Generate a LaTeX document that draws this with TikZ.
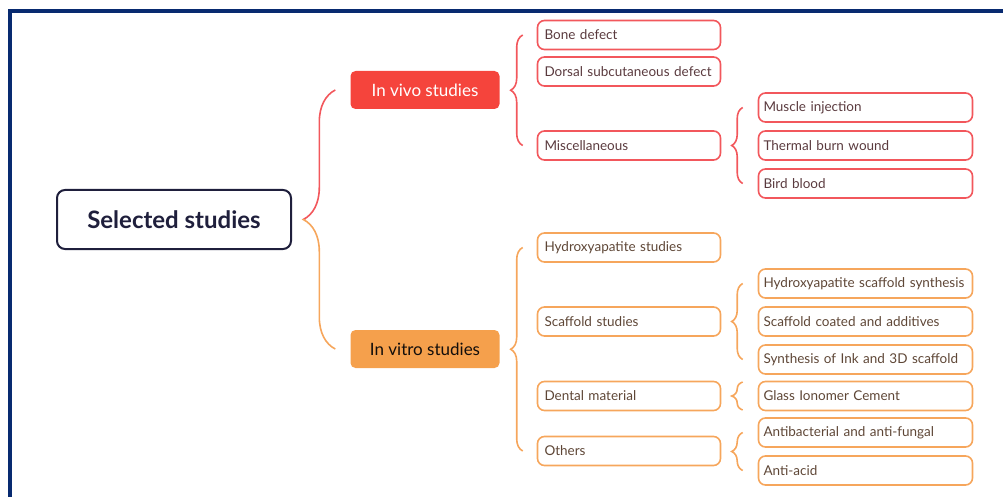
\documentclass[tikz,border=0pt]{standalone}
\usepackage{fontspec}
\setmainfont{Lato}
\usepackage{tikz}
\usetikzlibrary{decorations.pathreplacing}

\definecolor{framenavy}{HTML}{082A70}
\definecolor{rootnavy}{HTML}{1F1F3C}
\definecolor{vivofill}{HTML}{F5443C}
\definecolor{vivoline}{HTML}{F2575C}
\definecolor{vivotext}{HTML}{5A3A3E}
\definecolor{vitrofill}{HTML}{F5A04C}
\definecolor{vitroline}{HTML}{F6A65C}
\definecolor{vitrotext}{HTML}{5E4636}

\begin{document}
\begin{tikzpicture}[x=1pt, y=-1pt,
    root/.style={draw=rootnavy, line width=2pt, rounded corners=8pt, minimum width=234pt, minimum height=59pt, text=rootnavy, font=\fontsize{24}{28}\selectfont\bfseries},
    group/.style={rounded corners=5pt, minimum width=149pt, minimum height=38pt, font=\fontsize{17}{20}\selectfont},
    leaf/.style={draw, line width=1.6pt, rounded corners=7pt, inner xsep=7pt, text width=169pt, align=left, minimum height=29pt, font=\fontsize{13.5}{16}\selectfont},
    wideleaf/.style={leaf, inner xsep=5pt, text width=204pt},
    vivo/.style={draw=vivoline, text=vivotext},
    vitro/.style={draw=vitroline, text=vitrotext},
    curly/.style={decorate, line width=1.6pt, decoration={brace, amplitude=#1}},
    curly/.default=11pt]
    \useasboundingbox (0,0) rectangle (1003,497);
    \draw[framenavy, line width=4pt] (10,497) -- (10,11) -- (1003,11);

    % root and the two groups
    \node[root] (root) at (174,219.5) {Selected studies};
    \node[group, fill=vivofill, text=white] (invivo) at (425,90) {In vivo studies};
    \node[group, fill=vitrofill, text=black!80!vitrotext] (invitro) at (425,349) {In vitro studies};

    % in vivo
    \node[leaf, vivo] (bone) at (629,35) {Bone defect};
    \node[leaf, vivo] (dorsal) at (629,71.5) {Dorsal subcutaneous defect};
    \node[leaf, vivo] (misc) at (629,145.5) {Miscellaneous};
    \node[wideleaf, vivo] (muscle) at (865.5,107.5) {Muscle injection};
    \node[wideleaf, vivo] (burn) at (865.5,145.5) {Thermal burn wound};
    \node[wideleaf, vivo] (bird) at (865.5,183.5) {Bird blood};

    % in vitro
    \node[leaf, vitro] (hastudies) at (629,247.5) {Hydroxyapatite studies};
    \node[leaf, vitro] (scaffold) at (629,321.5) {Scaffold studies};
    \node[leaf, vitro] (dental) at (629,396) {Dental material};
    \node[leaf, vitro] (others) at (629,451) {Others};
    \node[wideleaf, vitro] (hasynth) at (865.5,283.5) {Hydroxyapatite scaffold synthesis};
    \node[wideleaf, vitro] (coated) at (865.5,321.5) {Scaffold coated and additives};
    \node[wideleaf, vitro] (ink) at (865.5,359.5) {Synthesis of Ink and 3D scaffold};
    \node[wideleaf, vitro] (glass) at (865.5,396) {Glass Ionomer Cement};
    \node[wideleaf, vitro] (antibact) at (865.5,432.5) {Antibacterial and anti-fungal};
    \node[wideleaf, vitro] (antiacid) at (865.5,470.5) {Anti-acid};

    % braces
    \begin{scope}
        \clip (280,0) rectangle (345,219.5);
        \draw[vivoline, curly=32pt] ([xshift=-15pt]invitro.west) -- ([xshift=-15pt]invivo.west);
    \end{scope}
    \begin{scope}
        \clip (280,219.5) rectangle (345,497);
        \draw[vitroline, curly=32pt] ([xshift=-15pt]invitro.west) -- ([xshift=-15pt]invivo.west);
    \end{scope}
    \draw[vivoline, curly=12pt] ([xshift=-14pt]misc.west) -- ([xshift=-14pt]bone.west);
    \draw[vivoline, curly] ([xshift=-15pt]bird.west) -- ([xshift=-15pt]muscle.west);
    \draw[vitroline, curly=12pt] ([xshift=-14pt]others.west) -- ([xshift=-14pt]hastudies.west);
    \draw[vitroline, curly] ([xshift=-15pt]ink.west) -- ([xshift=-15pt]hasynth.west);
    \draw[vitroline, curly] ([xshift=-15pt, yshift=-14pt]glass.west) -- ([xshift=-15pt, yshift=14pt]glass.west);
    \draw[vitroline, curly] ([xshift=-15pt]antiacid.west) -- ([xshift=-15pt]antibact.west);
\end{tikzpicture}
\end{document}
